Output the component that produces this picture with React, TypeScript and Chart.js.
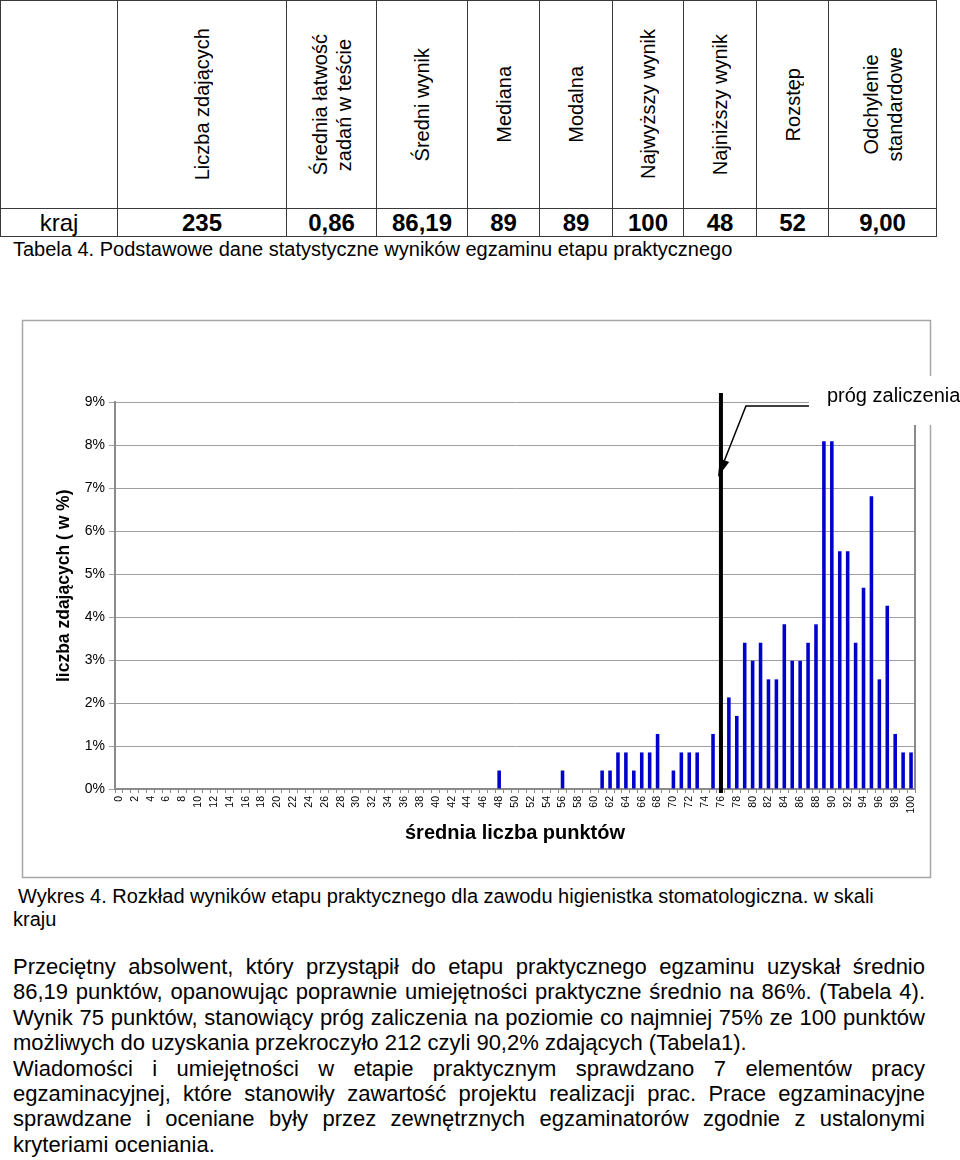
import React, { useEffect, useRef } from 'react';
import { Chart, registerables } from 'chart.js';

Chart.register(...registerables);

const FONT = "Arial, 'Liberation Sans', Helvetica, sans-serif";

// ---- chart data ----
const SCORE_LABELS = [
  '0', '1', '2', '3', '4', '5', '6', '7', '8', '9',
  '10', '11', '12', '13', '14', '15', '16', '17', '18', '19',
  '20', '21', '22', '23', '24', '25', '26', '27', '28', '29',
  '30', '31', '32', '33', '34', '35', '36', '37', '38', '39',
  '40', '41', '42', '43', '44', '45', '46', '47', '48', '49',
  '50', '51', '52', '53', '54', '55', '56', '57', '58', '59',
  '60', '61', '62', '63', '64', '65', '66', '67', '68', '69',
  '70', '71', '72', '73', '74', '75', '76', '77', '78', '79',
  '80', '81', '82', '83', '84', '85', '86', '87', '88', '89',
  '90', '91', '92', '93', '94', '95', '96', '97', '98', '99',
  '100',
];

// percent of candidates with a given score
const PERCENT_VALUES = [
  0, 0, 0, 0, 0, 0, 0, 0, 0, 0,
  0, 0, 0, 0, 0, 0, 0, 0, 0, 0,
  0, 0, 0, 0, 0, 0, 0, 0, 0, 0,
  0, 0, 0, 0, 0, 0, 0, 0, 0, 0,
  0, 0, 0, 0, 0, 0, 0, 0, 0.43, 0,
  0, 0, 0, 0, 0, 0, 0.43, 0, 0, 0,
  0, 0.43, 0.43, 0.85, 0.85, 0.43, 0.85, 0.85, 1.28, 0,
  0.43, 0.85, 0.85, 0.85, 0, 1.28, 1.28, 2.13, 1.7, 3.4,
  2.98, 3.4, 2.55, 2.55, 3.83, 2.98, 2.98, 3.4, 3.83, 8.09,
  8.09, 5.53, 5.53, 3.4, 4.68, 6.81, 2.55, 4.26, 1.28, 0.85,
  0.85,
];

const Y_MIN = 0;
const Y_MAX = 9;
const Y_STEP = 1;
const X_TITLE = 'średnia liczba punktów';
const Y_TITLE = '    liczba zdających ( w %)';
const PASS_LINE_LABEL = '76';
const PASS_TEXT = 'próg zaliczenia';

// ---- table data ----
const TABLE_HEADERS = [
  'Liczba zdających',
  'Średnia łatwość\nzadań w teście',
  'Średni wynik',
  'Mediana',
  'Modalna',
  'Najwyższy wynik',
  'Najniższy wynik',
  'Rozstęp',
  'Odchylenie\nstandardowe',
];
const TABLE_ROW_LABEL = 'kraj';
const TABLE_VALUES = ['235', '0,86', '86,19', '89', '89', '100', '48', '52', '9,00'];
const TABLE_COL_WIDTHS = [117, 169, 90, 91, 72, 73, 71, 73, 72, 109];

const TABLE_CAPTION = 'Tabela 4. Podstawowe dane statystyczne wyników egzaminu etapu praktycznego';
const CHART_CAPTION_1 = 'Wykres 4. Rozkład wyników etapu praktycznego dla zawodu higienistka stomatologiczna. w skali';
const CHART_CAPTION_2 = 'kraju';

const PARAGRAPH_LINES: { text: string; justify: boolean }[] = [
  { text: 'Przeciętny absolwent, który przystąpił do etapu praktycznego egzaminu uzyskał średnio', justify: true },
  { text: '86,19 punktów, opanowując poprawnie umiejętności praktyczne średnio na 86%. (Tabela 4).', justify: true },
  { text: 'Wynik 75 punktów, stanowiący próg zaliczenia na poziomie co najmniej 75% ze 100 punktów', justify: true },
  { text: 'możliwych do uzyskania przekroczyło 212 czyli 90,2% zdających (Tabela1).', justify: false },
  { text: 'Wiadomości i umiejętności w etapie praktycznym sprawdzano 7 elementów pracy', justify: true },
  { text: 'egzaminacyjnej, które stanowiły zawartość projektu realizacji prac. Prace egzaminacyjne', justify: true },
  { text: 'sprawdzane i oceniane były przez zewnętrznych egzaminatorów zgodnie z ustalonymi', justify: true },
  { text: 'kryteriami oceniania.', justify: false },
];

const decorPlugin = {
  id: 'decor',
  beforeDraw(chart: any) {
    const { ctx } = chart;
    ctx.save();
    ctx.strokeStyle = '#a6a6a6';
    ctx.lineWidth = 1.5;
    ctx.strokeRect(22.5, 20.5, 908, 557);
    ctx.restore();
  },
  afterDraw(chart: any) {
    const { ctx, chartArea } = chart;
    const xs = chart.scales.x;
    ctx.save();
    // plot right border
    ctx.strokeStyle = '#8a8a8a';
    ctx.lineWidth = 2;
    ctx.beginPath();
    ctx.moveTo(chartArea.right, chartArea.top);
    ctx.lineTo(chartArea.right, chartArea.bottom);
    ctx.stroke();

    // pass threshold line
    const lx = xs.getPixelForValue(SCORE_LABELS.indexOf(PASS_LINE_LABEL));
    ctx.strokeStyle = '#000';
    ctx.lineWidth = 4;
    ctx.beginPath();
    ctx.moveTo(lx, chartArea.top - 9);
    ctx.lineTo(lx, chartArea.bottom + 4);
    ctx.stroke();

    // label box
    const bx = lx + 88;
    ctx.fillStyle = '#fff';
    ctx.fillRect(bx, chartArea.top - 26, 960 - bx, 49);
    ctx.fillStyle = '#000';
    ctx.font = `20px ${FONT}`;
    ctx.textAlign = 'left';
    ctx.textBaseline = 'middle';
    ctx.fillText(PASS_TEXT, bx + 18, chartArea.top - 6);

    // callout
    const kx = lx + 25;
    const ky = chartArea.top + 4;
    const tx = lx - 3;
    const ty = chartArea.top + 75;
    ctx.strokeStyle = '#000';
    ctx.lineWidth = 1.5;
    const dx = tx - kx;
    const dy = ty - ky;
    const len = Math.sqrt(dx * dx + dy * dy);
    const ux = dx / len;
    const uy = dy / len;
    const hl = 18;
    const hw = 5;
    const bcx = tx - ux * hl;
    const bcy = ty - uy * hl;
    ctx.beginPath();
    ctx.moveTo(bx, ky);
    ctx.lineTo(kx, ky);
    ctx.lineTo(bcx, bcy);
    ctx.stroke();
    ctx.fillStyle = '#000';
    ctx.beginPath();
    ctx.moveTo(tx, ty);
    ctx.lineTo(bcx - uy * hw, bcy + ux * hw);
    ctx.lineTo(bcx + uy * hw, bcy - ux * hw);
    ctx.closePath();
    ctx.fill();
    ctx.restore();
  },
};

function StatsTable() {
  const left: number[] = [];
  let acc = 0;
  for (const w of TABLE_COL_WIDTHS) {
    left.push(acc);
    acc += w;
  }
  const headerH = 208;
  const rowH = 29;
  const border = '1px solid #3a3a3a';
  const cells: React.ReactNode[] = [];
  TABLE_COL_WIDTHS.forEach((w, i) => {
    cells.push(
      <div
        key={'h' + i}
        style={{
          position: 'absolute', left: left[i], top: 0, width: w, height: headerH,
          borderLeft: border, borderTop: border, borderRight: i === TABLE_COL_WIDTHS.length - 1 ? border : undefined,
          boxSizing: 'border-box', display: 'flex', alignItems: 'center', justifyContent: 'center',
        }}
      >
        {i > 0 && (
          <div
            style={{
              writingMode: 'vertical-rl', transform: 'rotate(180deg)', textAlign: 'center',
              fontSize: 20, lineHeight: '24px', whiteSpace: 'pre', color: '#000',
            }}
          >
            {TABLE_HEADERS[i - 1]}
          </div>
        )}
      </div>
    );
    cells.push(
      <div
        key={'d' + i}
        style={{
          position: 'absolute', left: left[i], top: headerH, width: w, height: rowH,
          borderLeft: border, borderTop: border, borderBottom: border,
          borderRight: i === TABLE_COL_WIDTHS.length - 1 ? border : undefined,
          boxSizing: 'border-box', display: 'flex', alignItems: 'center', justifyContent: 'center',
          fontSize: 24, fontWeight: i === 0 ? 'normal' : 'bold', color: '#000',
        }}
      >
        {i === 0 ? TABLE_ROW_LABEL : TABLE_VALUES[i - 1]}
      </div>
    );
  });
  return <>{cells}</>;
}

export default function App() {
  const canvasRef = useRef<HTMLCanvasElement>(null);

  useEffect(() => {
    const canvas = canvasRef.current;
    if (!canvas) return;
    const chart = new Chart(canvas, {
      type: 'bar',
      data: {
        labels: SCORE_LABELS,
        datasets: [
          {
            data: PERCENT_VALUES,
            backgroundColor: '#0000cc',
            borderWidth: 0,
            barPercentage: 0.45,
            categoryPercentage: 1,
          },
        ],
      },
      options: {
        responsive: false,
        animation: false,
        devicePixelRatio: 1,
        layout: { padding: { left: 22, right: 45, top: 102, bottom: 31 } },
        plugins: { legend: { display: false }, tooltip: { enabled: false } },
        scales: {
          x: {
            grid: { display: true, drawOnChartArea: false, drawTicks: true, tickLength: 4, color: '#8a8a8a', offset: true },
            border: { color: '#8a8a8a', width: 2 },
            ticks: {
              autoSkip: false, minRotation: 90, maxRotation: 90, padding: 3, color: '#000',
              font: { family: FONT, size: 10.5 },
              callback: (_v: any, i: number) => (i % 2 === 0 ? SCORE_LABELS[i] : ''),
            },
            title: {
              display: true, text: X_TITLE, color: '#000',
              font: { family: FONT, size: 20, weight: 'bold' }, padding: { top: 0, bottom: 4 },
            },
            afterFit: (s: any) => { s.height = 60; },
          },
          y: {
            min: Y_MIN, max: Y_MAX,
            ticks: {
              stepSize: Y_STEP, color: '#000', padding: 4,
              font: { family: FONT, size: 14 },
              callback: (v: any) => v + '%',
            },
            grid: { color: '#a0a0a0', lineWidth: 1, tickLength: 6 },
            border: { color: '#8a8a8a', width: 2 },
            title: {
              display: true, text: Y_TITLE, color: '#000',
              font: { family: FONT, size: 17.5, weight: 'bold' }, padding: { top: 32, bottom: 0 },
            },
            afterFit: (s: any) => { s.width = 93; },
          },
        },
      } as any,
      plugins: [decorPlugin],
    });
    return () => chart.destroy();
  }, []);

  return (
    <div style={{ position: 'absolute', left: 0, top: 0, width: 960, height: 1160, background: '#fff', fontFamily: FONT, color: '#000', overflow: 'hidden' }}>
      <StatsTable />
      <div style={{ position: 'absolute', left: 13, top: 238, fontSize: 20, lineHeight: '23px', whiteSpace: 'nowrap' }}>{TABLE_CAPTION}</div>
      <canvas
        ref={canvasRef}
        width={960}
        height={580}
        style={{ position: 'absolute', left: 0, top: 300, width: 960, height: 580 }}
      />
      <div style={{ position: 'absolute', left: 18, top: 885, fontSize: 20, lineHeight: '23px', whiteSpace: 'nowrap' }}>{CHART_CAPTION_1}</div>
      <div style={{ position: 'absolute', left: 13, top: 908, fontSize: 20, lineHeight: '23px', whiteSpace: 'nowrap' }}>{CHART_CAPTION_2}</div>
      <div style={{ position: 'absolute', left: 13, top: 954, width: 912 }}>
        {PARAGRAPH_LINES.map((l, i) => (
          <div
            key={i}
            style={{
              fontSize: 22, lineHeight: '25.4px', whiteSpace: 'nowrap', height: 25.4,
              textAlign: l.justify ? 'justify' : 'left', textAlignLast: l.justify ? 'justify' : 'left',
            } as any}
          >
            {l.text}
          </div>
        ))}
      </div>
    </div>
  );
}
